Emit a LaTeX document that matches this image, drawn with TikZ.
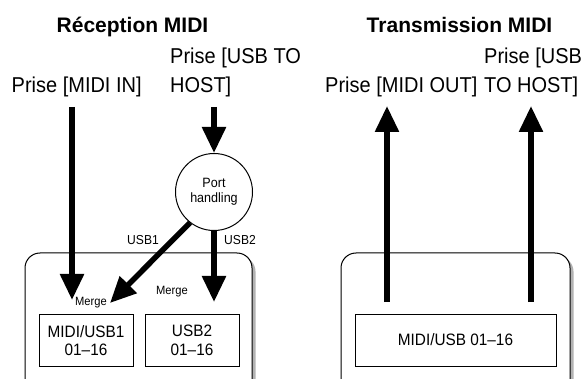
\documentclass[tikz,border=0pt]{standalone}
\usepackage{fontspec}
\setmainfont{Liberation Sans}
\newfontfamily\condf{Liberation Sans}[FakeStretch=0.93]
\usetikzlibrary{arrows.meta}
\tikzset{
  ttl/.style={font=\fontsize{21}{25}\selectfont\bfseries, inner sep=0pt, anchor=base},
  lbl/.style={font=\condf\fontsize{21.5}{29}\selectfont, inner sep=0pt, anchor=base west},
  small/.style={font=\condf\fontsize{13}{15}\selectfont, inner sep=0pt},
  tiny/.style={font=\condf\fontsize{12}{13}\selectfont, inner sep=0pt},
  chan/.style={draw, line width=1pt, fill=white, minimum height=52pt, inner sep=0pt, align=center, font=\condf\fontsize{16.5}{18.5}\selectfont},
  big/.style={line width=5.5pt, -{Triangle[length=26pt,width=23pt]}},
  outerbox/.style={draw, line width=1pt, fill=white, rounded corners=15pt},
  shadowbox/.style={fill=black!30, rounded corners=15pt},
}
\begin{document}
\begin{tikzpicture}[x=1pt,y=-1pt]
\useasboundingbox (0,0) rectangle (586,379);
\clip (0,0) rectangle (586,379);
% titles
\node[ttl] (rtitle) at (132.5,32.7) {Réception MIDI};
\node[ttl] (ttitle) at (459.5,32.7) {Transmission MIDI};
% labels
\node[lbl] (midiin) at (11.5,92.5) {Prise [MIDI IN]};
\node[lbl] (usbhA) at (170,64) {Prise [USB TO};
\node[lbl] (usbhB) at (170,93) {HOST]};
\node[lbl] (midiout) at (325,92.5) {Prise [MIDI OUT]};
\node[lbl] (usbtA) at (484,64) {Prise [USB};
\node[lbl] (usbtB) at (484,93) {TO HOST]};
% outer boxes
\fill[shadowbox] (28.5,256.5) rectangle (255.5,410);
\draw[outerbox] (25,253) rectangle (252,406);
\fill[shadowbox] (344.5,256.5) rectangle (573.5,410);
\draw[outerbox] (341,253) rectangle (570,406);
% channel boxes
\node[chan, minimum width=94pt] (b1) at (86,340.5) {MIDI/USB1\\01–16};
\node[chan, minimum width=94pt] (b2) at (192,340.5) {USB2\\01–16};
\node[chan, minimum width=201pt] (b3) at (455.5,340) {MIDI/USB 01–16};
% port handling
\node[draw, circle, line width=1pt, fill=white, minimum size=77pt, inner sep=0pt, align=center,
      font=\condf\fontsize{13.5}{15.5}\selectfont] (port) at (214,192) {Port\\handling};
% coordinates
\coordinate (inS) at (72,107);
\coordinate (inT) at (72,300);
\coordinate (hS) at (214,107);
\coordinate (u1T) at (110,303);
\coordinate (u2T) at (214,302);
\coordinate (o1S) at (387,302);
\coordinate (o1T) at (387,106);
\coordinate (o2S) at (531,302);
\coordinate (o2T) at (531,106);
% arrows
\draw[big] (inS) -- (inT);
\draw[big] (hS) -- (port.north);
\draw[big] (port.232) -- (u1T);
\draw[big] (port.south) -- (u2T);
\draw[big] (o1S) -- (o1T);
\draw[big] (o2S) -- (o2T);
% small labels
\node[small] (l1) at (143,240) {USB1};
\node[small] (l2) at (240,240) {USB2};
\node[tiny] (m1) at (91,303) {Merge};
\node[tiny] (m2) at (172,292) {Merge};
\end{tikzpicture}
\end{document}
